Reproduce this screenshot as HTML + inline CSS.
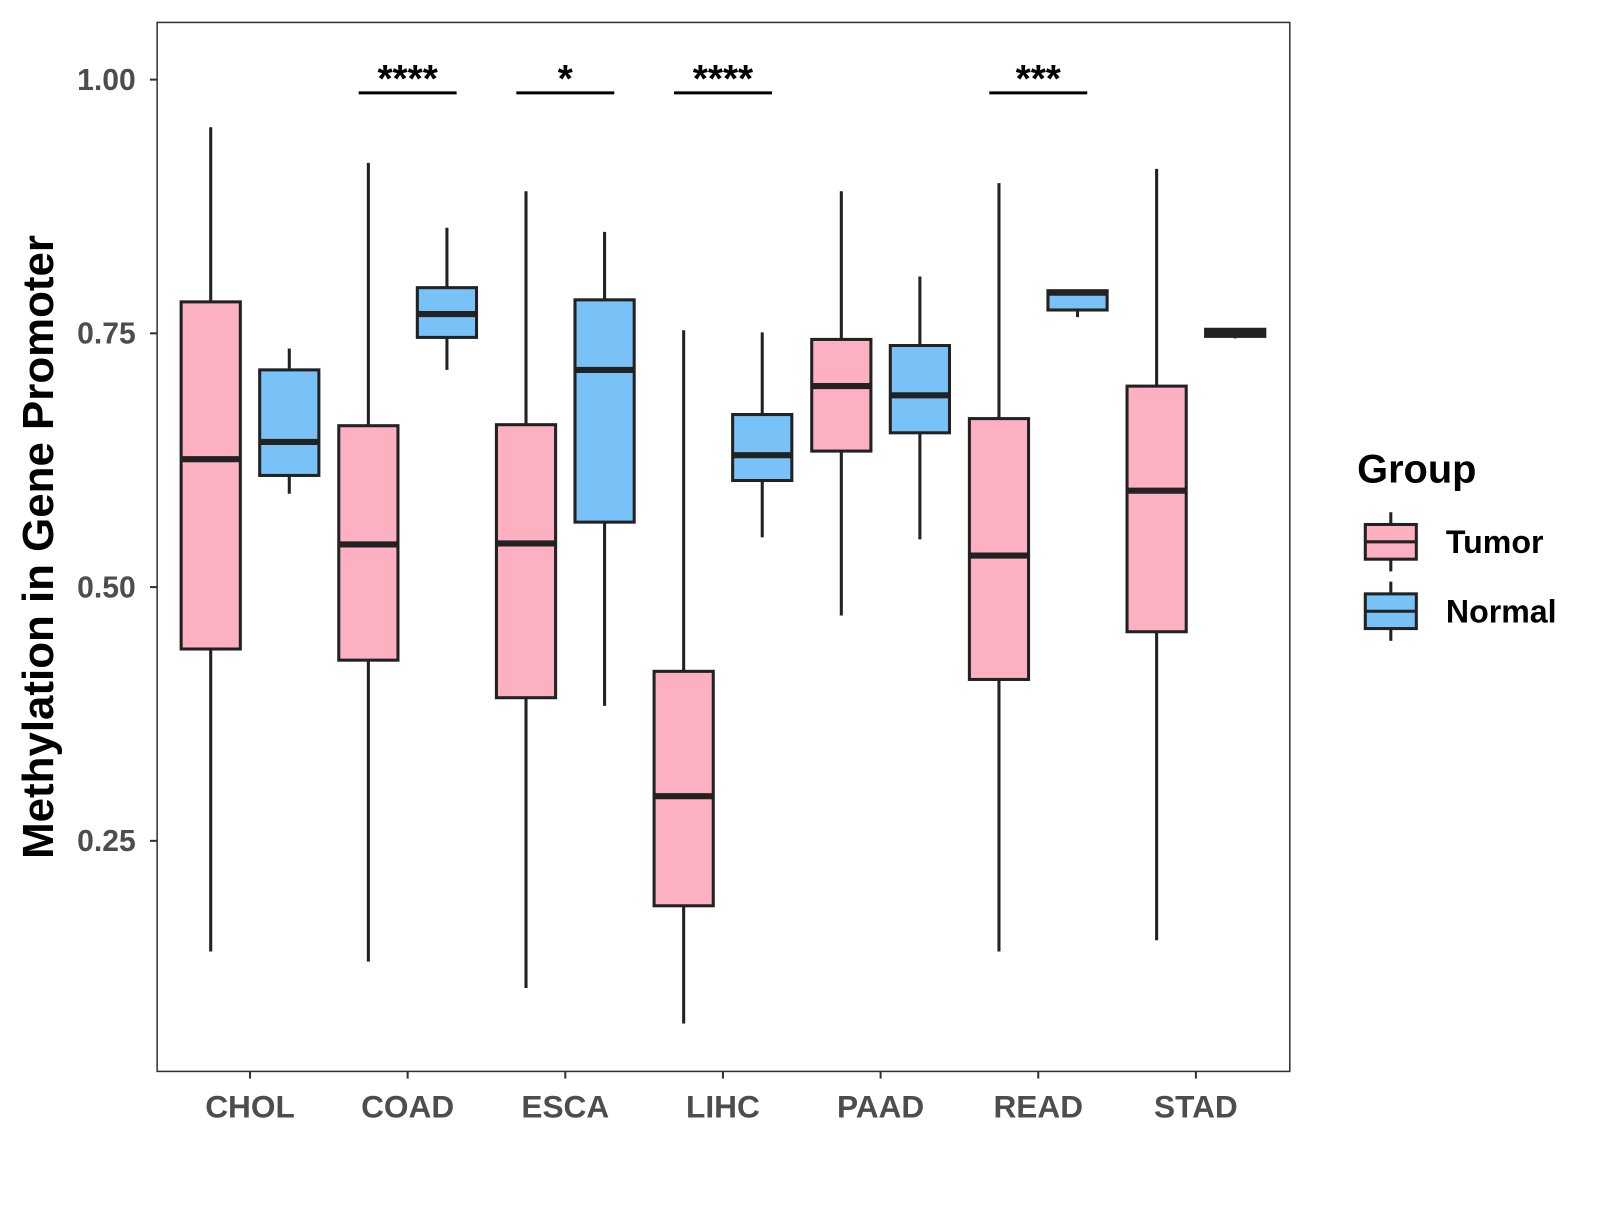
<!DOCTYPE html>
<html><head><meta charset="utf-8"><style>
body{margin:0;background:#fff}
svg text{font-family:"Liberation Sans",Arial,sans-serif;font-weight:bold}
</style></head><body>
<svg width="1600" height="1200" xmlns="http://www.w3.org/2000/svg"><g id="chart" transform="scale(1.0204)"></g></svg>
<script>
const categories=["CHOL","COAD","ESCA","LIHC","PAAD","READ","STAD"];
// [whiskerLow, q1, median, q3, whiskerHigh]
const tumorStats=[[0.141,0.439,0.626,0.781,0.953],[0.131,0.428,0.542,0.659,0.918],[0.105,0.391,0.543,0.660,0.890],[0.070,0.186,0.294,0.417,0.753],[0.472,0.634,0.698,0.744,0.890],[0.141,0.409,0.531,0.666,0.898],[0.152,0.456,0.595,0.698,0.912]];
const normalStats=[[0.592,0.610,0.643,0.714,0.735],[0.714,0.746,0.769,0.795,0.854],[0.383,0.564,0.714,0.783,0.850],[0.549,0.605,0.630,0.670,0.751],[0.547,0.652,0.689,0.738,0.806],[0.766,0.773,0.790,0.792,0.792],[0.745,0.747,0.751,0.754,0.755]];
const signif=["","****","*","****","","***",""];
const yTicks=[0.25,0.50,0.75,1.00];
const yTickLabels=["0.25","0.50","0.75","1.00"];

const NS="http://www.w3.org/2000/svg";
const svg=document.getElementById('chart');
const P={l:154,r:1264,t:22,b:1050};
const y=v=>78+(1-v)*994.7;
const x=i=>245+i*154.5;
function el(tag,attrs,parent){const e=document.createElementNS(NS,tag);for(const k in attrs)e.setAttribute(k,attrs[k]);(parent||svg).appendChild(e);return e;}

const panel=el('rect',{x:P.l,y:P.t,width:P.r-P.l,height:P.b-P.t,fill:'#fff',stroke:'#333','stroke-width':1.5});



yTicks.forEach((v,i)=>{
  const t=el('line',{x1:P.l-7,x2:P.l,y1:y(v),y2:y(v),stroke:'#333','stroke-width':2});
  
  
  const l=el('text',{x:P.l-21,y:y(v)+10,'text-anchor':'end','font-size':29.5,fill:'#4d4d4d'});
  l.textContent=yTickLabels[i];
  
  
});
categories.forEach((c,i)=>{
  const t=el('line',{x1:x(i),x2:x(i),y1:P.b,y2:P.b+7,stroke:'#333','stroke-width':2});
  
  
  const l=el('text',{x:x(i),y:1095,'text-anchor':'middle','font-size':31,fill:'#4d4d4d'});
  l.textContent=c;
  
  
});
const yt=el('text',{x:0,y:0,transform:'translate(52,536) rotate(-90)','text-anchor':'middle','font-size':43,fill:'#000'});
yt.textContent='Methylation in Gene Promoter';



function box(cx,s,fill,name){
  const g=el('g',{});
  
  
  const w=58;
  el('line',{x1:cx,x2:cx,y1:y(s[4]),y2:y(s[3]),stroke:'#222','stroke-width':3},g);
  el('line',{x1:cx,x2:cx,y1:y(s[1]),y2:y(s[0]),stroke:'#222','stroke-width':3},g);
  el('rect',{x:cx-w/2,y:y(s[3]),width:w,height:Math.max(1,y(s[1])-y(s[3])),fill:fill,stroke:'#222','stroke-width':3},g);
  el('line',{x1:cx-w/2,x2:cx+w/2,y1:y(s[2]),y2:y(s[2]),stroke:'#222','stroke-width':6},g);
}
categories.forEach((c,i)=>{
  box(x(i)-38.5,tumorStats[i],'#FDB0C2','box-tumor-'+c.toLowerCase());
  box(x(i)+38.5,normalStats[i],'#79C2F8','box-normal-'+c.toLowerCase());
  if(signif[i]){
    const b=el('line',{x1:x(i)-48,x2:x(i)+48,y1:91,y2:91,stroke:'#000','stroke-width':3});
    
    
    const t=el('text',{x:x(i),y:90,'text-anchor':'middle','font-size':38,fill:'#000'});
    t.textContent=signif[i];
    
    
  }
});
// legend
const lt=el('text',{x:1330,y:473,'font-size':39,fill:'#000'});
lt.textContent='Group';


[['Tumor','#FDB0C2',531],['Normal','#79C2F8',599]].forEach(([n,f,cy])=>{
  const g=el('g',{});
  
  
  el('line',{x1:1363,x2:1363,y1:cy-29,y2:cy+29,stroke:'#222','stroke-width':3},g);
  el('rect',{x:1338,y:cy-17,width:50,height:34,fill:f,stroke:'#222','stroke-width':3},g);
  el('line',{x1:1338,x2:1388,y1:cy,y2:cy,stroke:'#222','stroke-width':3},g);
  const t=el('text',{x:1417,y:cy+11,'font-size':31.5,fill:'#000'},g);
  t.textContent=n;
});
</script>
</body></html>
